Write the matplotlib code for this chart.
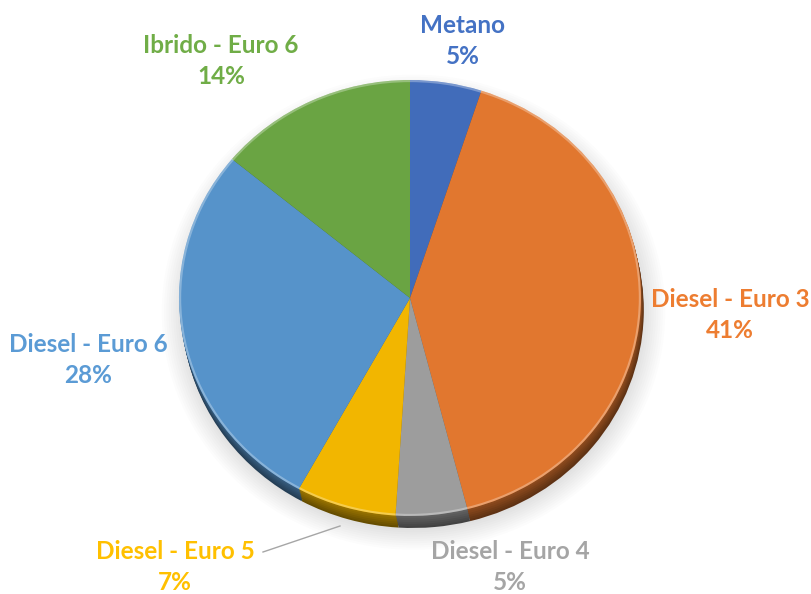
import numpy as np
import matplotlib.pyplot as plt
from matplotlib.colors import to_rgb
from matplotlib.patches import Ellipse

# Dati: ripartizione del parco veicoli per alimentazione / classe
labels = ["Metano", "Diesel - Euro 3", "Diesel - Euro 4",
          "Diesel - Euro 5", "Diesel - Euro 6", "Ibrido - Euro 6"]
shares = [5, 41, 5, 7, 28, 14]
colors = ["#4472C4", "#ED7D31", "#A5A5A5", "#FFC000", "#5B9BD5", "#70AD47"]

# centro delle etichette in pixel (origine in alto a sinistra)
label_pos = [(463, 41), (730, 315), (510, 567), (175, 567), (88, 360), (221, 61)]

W, H = 811, 594
fig = plt.figure(figsize=(W / 100, H / 100), dpi=100)

# torta con leggero effetto rilievo: ellisse rx x ry
cx, cy, rx, ry = 410, 298, 231, 218
m = 1.35
ax = fig.add_axes([(cx - rx * m) / W, 1 - (cy + ry * m) / H, 2 * rx * m / W, 2 * ry * m / H])


def shade(c, f):
    return tuple(np.clip(np.array(to_rgb(c)) * f, 0, 1))


depth = 0.055

# ombra morbida
for k in range(10):
    ax.add_patch(Ellipse((0.015, -depth - 0.01), 2 * (1.0 + 0.01 * k), 2 * (1.0 + 0.01 * k),
                         color="black", alpha=0.013, lw=0, zorder=0))

# bordo scuro in basso (strati sempre piu' scuri)
n_layers = 6
for i in range(n_layers, 0, -1):
    f = 0.62 - 0.22 * i / n_layers
    wedges, _ = ax.pie(shares, colors=[shade(c, f) for c in colors], startangle=90,
                       counterclock=False, center=(0.012 * i / n_layers, -depth * i / n_layers),
                       radius=1, wedgeprops=dict(linewidth=0))
    for w in wedges:
        w.set_zorder(1)

# faccia superiore
wedges, _ = ax.pie(shares, colors=[shade(c, 0.95) for c in colors], startangle=90,
                   counterclock=False, center=(0, 0), radius=1,
                   wedgeprops=dict(linewidth=0))
for w in wedges:
    w.set_zorder(2)
# riflesso chiaro sul bordo
ax.add_patch(Ellipse((0, 0), 1.99, 1.99, fill=False, ec="white", alpha=0.3, lw=1.5, zorder=3))

ax.set_xlim(-m, m)
ax.set_ylim(-m, m)
ax.set_aspect("auto")
ax.axis("off")

# etichette in coordinate pixel
ov = fig.add_axes([0, 0, 1, 1], zorder=5)
ov.set_xlim(0, W)
ov.set_ylim(H, 0)
ov.axis("off")
ov.patch.set_alpha(0)

for lab, s, c, (x, y) in zip(labels, shares, colors, label_pos):
    ov.text(x, y, f"{lab}\n{s}%", color=c, ha="center", va="center",
            fontsize=17.5, fontweight="bold", family=["Lato", "DejaVu Sans"],
            linespacing=1.42)

# linea di richiamo per Diesel - Euro 5
ov.plot([263, 340], [552, 526], color="#A6A6A6", lw=1)

fig.savefig("out.png", dpi=100)
